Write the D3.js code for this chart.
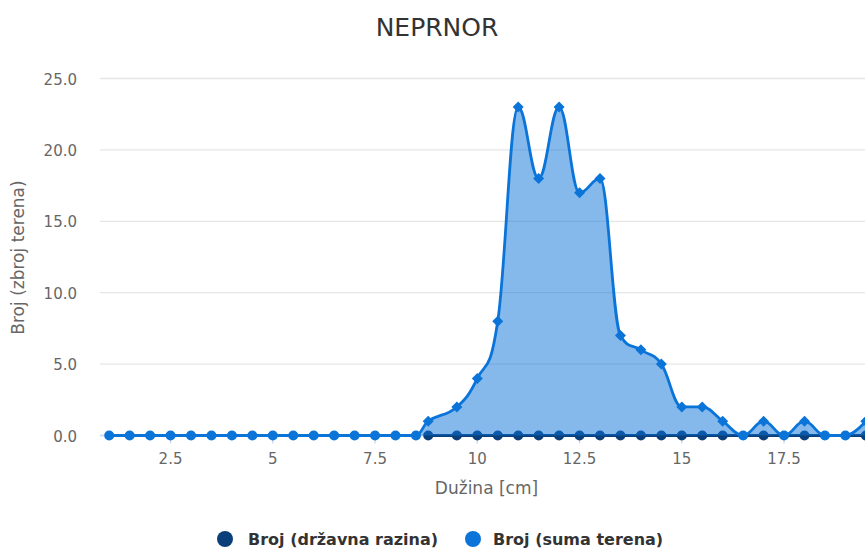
<!DOCTYPE html>
<html><head><meta charset="utf-8">
<script src="https://cdn.jsdelivr.net/npm/d3@7"></script>
<style>body{margin:0;background:#fff;overflow:hidden}svg{display:block;font-family:"DejaVu Sans",sans-serif}</style>
</head><body><svg id="c" width="865" height="554"></svg>
<script>
const chartTitle = "NEPRNOR";
const xTitle = "Dužina [cm]";
const yTitle = "Broj (zbroj terena)";
const seriesNames = ["Broj (državna razina)", "Broj (suma terena)"];
const seriesColors = ["#0b3f7a", "#0b74d9"];

// Broj (suma terena)
const sumaX = [1,1.5,2,2.5,3,3.5,4,4.5,5,5.5,6,6.5,7,7.5,8,8.5,8.8,9.5,10,10.5,11,11.5,12,12.5,13,13.5,14,14.5,15,15.5,16,16.5,17,17.5,18,18.5,19,19.5];
const sumaY = [0,0,0,0,0,0,0,0,0,0,0,0,0,0,0,0,1,2,4,8,23,18,23,17,18,7,6,5,2,2,1,0,1,0,1,0,0,1];
// Broj (državna razina)
const drzX = [8.8,9.5,10,10.5,11,11.5,12,12.5,13,13.5,14,14.5,15,15.5,16,17,18,19.5];
const drzY = [0,0,0,0,0,0,0,0,0,0,0,0,0,0,0,0,0,0];

const xTicks = [2.5,5,7.5,10,12.5,15,17.5];
const xTickLabels = ["2.5","5","7.5","10","12.5","15","17.5"];
const yTicks = [0,5,10,15,20,25];
const yTickLabels = ["0.0","5.0","10.0","15.0","20.0","25.0"];

const svg = d3.select("#c");
const plotL = 100, plotR = 873, plotT = 78.5, plotB = 435.5;
const x = d3.scaleLinear().domain([0.775, 19.675]).range([plotL, plotR]);
const y = d3.scaleLinear().domain([0, 25]).range([plotB, plotT]);

// grid
svg.append("g").selectAll("line").data(yTicks).join("line")
  .attr("x1", plotL).attr("x2", plotR)
  .attr("y1", d => y(d)).attr("y2", d => y(d))
  .attr("stroke", "#e6e6e6").attr("stroke-width", 1.3);

// y labels
svg.append("g").selectAll("text").data(yTicks).join("text")
  .attr("x", 77).attr("y", d => y(d) + 6)
  .attr("text-anchor", "end").attr("fill", "#666").attr("font-size", 15)
  .text((d, i) => yTickLabels[i]);

// x axis line + ticks + labels
svg.append("line").attr("x1", plotL).attr("x2", plotR).attr("y1", plotB).attr("y2", plotB)
  .attr("stroke", "#ccd6eb").attr("stroke-width", 1.3);
const xg = svg.append("g");
xg.selectAll("line").data(xTicks).join("line")
  .attr("x1", d => x(d)).attr("x2", d => x(d)).attr("y1", plotB).attr("y2", plotB + 8)
  .attr("stroke", "#ccd6eb").attr("stroke-width", 1.3);
xg.selectAll("text").data(xTicks).join("text")
  .attr("x", d => x(d)).attr("y", plotB + 28.5)
  .attr("text-anchor", "middle").attr("fill", "#666").attr("font-size", 15)
  .text((d, i) => xTickLabels[i]);

// axis titles
svg.append("text").attr("x", (plotL + plotR) / 2).attr("y", 494)
  .attr("text-anchor", "middle").attr("fill", "#666").attr("font-size", 17).text(xTitle);
svg.append("text").attr("transform", `translate(24,257.5) rotate(-90)`)
  .attr("text-anchor", "middle").attr("fill", "#666").attr("font-size", 17).text(yTitle);

// title
svg.append("text").attr("x", 437).attr("y", 36).attr("text-anchor", "middle")
  .attr("fill", "#333").attr("font-size", 25).text(chartTitle);

// Highcharts-style spline
function hcSpline(pts) {
  const s = 1.5, den = s + 1;
  let d = "", prevR = null;
  for (let i = 0; i < pts.length; i++) {
    const [px, py] = pts[i];
    const last = pts[i - 1], next = pts[i + 1];
    let lcx, lcy, rcx, rcy, has = false;
    if (last && next) {
      const [lx, ly] = last, [nx, ny] = next;
      lcx = (s * px + lx) / den; lcy = (s * py + ly) / den;
      rcx = (s * px + nx) / den; rcy = (s * py + ny) / den;
      let corr = 0;
      if (rcx !== lcx) corr = ((rcy - lcy) * (rcx - px)) / (rcx - lcx) + py - rcy;
      lcy += corr; rcy += corr;
      if (lcy > ly && lcy > py) { lcy = Math.max(ly, py); rcy = 2 * py - lcy; }
      else if (lcy < ly && lcy < py) { lcy = Math.min(ly, py); rcy = 2 * py - lcy; }
      if (rcy > ny && rcy > py) { rcy = Math.max(ny, py); lcy = 2 * py - rcy; }
      else if (rcy < ny && rcy < py) { rcy = Math.min(ny, py); lcy = 2 * py - rcy; }
      has = true;
    }
    if (i === 0) d += `M${px},${py}`;
    else {
      const c1 = prevR || last;
      const c2 = has ? [lcx, lcy] : [px, py];
      d += `C${c1[0]},${c1[1]} ${c2[0]},${c2[1]} ${px},${py}`;
    }
    prevR = has ? [rcx, rcy] : null;
  }
  return d;
}

function drawSeries(xs, ys, color, fillOpacity) {
  const pts = xs.map((v, i) => [x(v), y(ys[i])]);
  const line = hcSpline(pts);
  const g = svg.append("g");
  g.append("path")
    .attr("d", line + `L${pts[pts.length - 1][0]},${y(0)}L${pts[0][0]},${y(0)}Z`)
    .attr("fill", color).attr("fill-opacity", fillOpacity).attr("stroke", "none");
  g.append("path").attr("d", line).attr("fill", "none")
    .attr("stroke", color).attr("stroke-width", 2.8).attr("stroke-linejoin", "round");
  return pts;
}
function drawMarkers(xs, ys, color, useDiamond) {
  const g = svg.append("g");
  xs.forEach((v, i) => {
    const cx = x(v), cy = y(ys[i]);
    if (useDiamond && ys[i] !== 0) {
      const r = 5.5;
      g.append("path").attr("d", `M${cx},${cy - r}L${cx + r},${cy}L${cx},${cy + r}L${cx - r},${cy}Z`)
        .attr("fill", color);
    } else {
      g.append("circle").attr("cx", cx).attr("cy", cy).attr("r", 5).attr("fill", color);
    }
  });
}

drawSeries(drzX, drzY, seriesColors[0], 0.5);
drawMarkers(drzX, drzY, seriesColors[0], false);
drawSeries(sumaX, sumaY, seriesColors[1], 0.5);
drawMarkers(sumaX, sumaY, seriesColors[1], true);

// legend
const legendPos = [{cx: 225, tx: 248}, {cx: 473, tx: 493}];
const lg = svg.append("g");
seriesNames.forEach((n, i) => {
  lg.append("circle").attr("cx", legendPos[i].cx).attr("cy", 539).attr("r", 8).attr("fill", seriesColors[i]);
  lg.append("text").attr("x", legendPos[i].tx).attr("y", 545).attr("fill", "#333")
    .attr("font-size", 16).attr("font-weight", "bold").text(n);
});
</script></body></html>
